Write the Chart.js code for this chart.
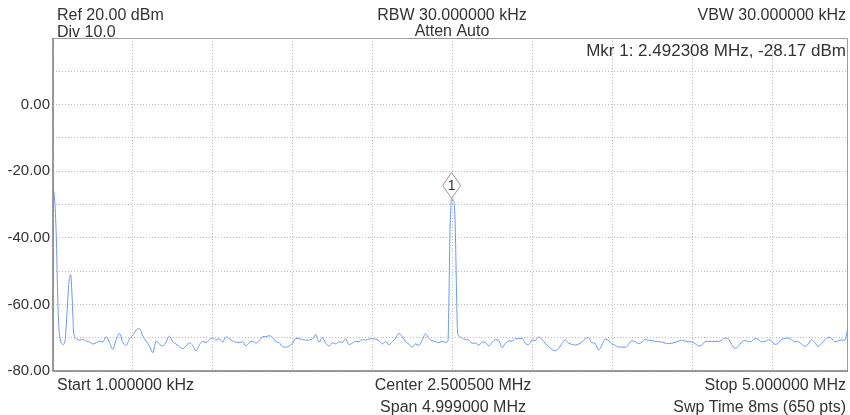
<!DOCTYPE html>
<html>
<head>
<meta charset="utf-8">
<title>Spectrum</title>
<script src="https://cdn.jsdelivr.net/npm/chart.js@4.4.0/dist/chart.umd.min.js"></script>
<style>
  html, body { margin: 0; padding: 0; background: #fff; overflow: hidden; }
  canvas { display: block; }
</style>
</head>
<body>
<canvas id="chart1" width="850" height="415"></canvas>
<script>
// barrido: 240 muestras equiespaciadas de la parte visible de la traza (MHz)
const sweepStartMHz = 0.001;
const visibleStopMHz = 4.969;
const traceDbm = [
  -25.5, -40, -69.5, -72, -66, -52, -64, -70.3, -70.7, -70.5,
  -71.0, -71.3, -71.9, -71.5, -71.0, -71.3, -69.7, -71.5, -73.5, -70.5,
  -68.7, -71.5, -72.3, -70.3, -69.3, -67.7, -67.3, -69.5, -71.0, -72.5,
  -74.5, -71.0, -71.9, -72.5, -71.3, -69.5, -71.3, -71.9, -72.7, -73.3,
  -72.5, -71.5, -72.3, -74.0, -72.1, -71.1, -71.5, -70.6, -70.0, -70.7,
  -70.3, -71.3, -69.7, -70.3, -71.0, -71.3, -71.5, -71.2, -72.5, -71.5,
  -71.1, -71.6, -70.9, -69.7, -69.7, -69.4, -69.9, -71.2, -71.5, -72.7,
  -72.8, -72.5, -71.7, -70.2, -70.3, -70.6, -70.7, -70.7, -70.3, -69.1,
  -71.3, -70.0, -71.7, -72.5, -71.5, -71.9, -71.2, -71.4, -70.3, -72.1,
  -71.6, -71.1, -71.2, -70.6, -70.7, -70.4, -70.3, -70.5, -70.9, -71.9,
  -71.1, -72.1, -71.2, -70.2, -68.7, -69.7, -71.2, -71.9, -72.8, -71.9,
  -72.3, -70.7, -68.8, -70.2, -70.9, -71.2, -71.5, -71.1, -71.4, -60,
  -28.3, -40, -69.5, -70.1, -70.6, -70.7, -71.7, -71.6, -72.3, -71.3,
  -71.4, -72.5, -71.4, -70.6, -70.8, -73.0, -71.7, -71.0, -71.0, -70.3,
  -70.3, -70.2, -71.7, -72.1, -70.7, -70.8, -69.8, -70.5, -71.7, -72.7,
  -73.6, -73.9, -73.2, -71.8, -70.7, -71.6, -72.0, -72.2, -71.9, -71.3,
  -70.3, -70.0, -71.5, -71.7, -73.7, -72.2, -70.4, -70.8, -71.8, -72.3,
  -72.8, -72.8, -72.9, -72.0, -70.9, -71.2, -71.8, -71.3, -70.5, -70.8,
  -70.8, -71.1, -71.2, -71.3, -71.6, -71.8, -71.7, -71.4, -71.1, -70.7,
  -71.0, -71.2, -71.3, -71.7, -72.5, -72.3, -71.2, -71.1, -71.1, -71.1,
  -71.1, -70.8, -70.1, -70.3, -72.0, -73.2, -72.7, -71.3, -70.8, -71.2,
  -71.1, -70.3, -70.5, -71.2, -71.2, -70.6, -70.9, -72.0, -71.7, -70.5,
  -70.2, -70.1, -70.6, -71.2, -71.2, -71.9, -72.6, -72.0, -70.6, -71.4,
  -72.6, -71.8, -70.7, -69.9, -70.1, -71.2, -71.0, -70.7, -70.8, -67.0
];

// puntos extra en los flancos de los picos
const peakMHz = [0.0104, 0.0291, 0.0354, 0.0760, 0.0916, 0.1010, 0.1116, 0.1197, 0.1291,
  2.4694, 2.4819, 2.4869, 2.4923, 2.5005, 2.5099, 2.5225, 2.5287];
const peakDbm = [-28, -55, -65, -71, -60, -53, -51, -57, -68,
  -71, -38, -31, -28.17, -28.6, -31, -56, -68];

// rejilla de frecuencia (10 divisiones de 0.4999 MHz)
const gridMHz = [0.001, 0.5009, 1.0008, 1.5007, 2.0006, 2.5005, 3.0004, 3.5003, 4.0002, 4.5001];

const markerMHz = 2.4923;
const markerDbm = -28.17;

const headerLeft = ['Ref 20.00 dBm', 'Div 10.0'];
const headerCenter = ['RBW 30.000000 kHz', 'Atten Auto'];
const headerRight = ['VBW 30.000000 kHz'];
const markerText = 'Mkr 1: 2.492308 MHz, -28.17 dBm';
const footerLeft = ['Start 1.000000 kHz'];
const footerCenter = ['Center 2.500500 MHz', 'Span 4.999000 MHz'];
const footerRight = ['Stop 5.000000 MHz', 'Swp Time 8ms (650 pts)'];

const FONT = "'Liberation Sans', Arial, sans-serif";
const TEXT = '#333333';

let tablaEspectro;

function construirTraza() {
    const step = (visibleStopMHz - sweepStartMHz) / (traceDbm.length - 1);
    const puntos = traceDbm.map((v, i) => ({ x: sweepStartMHz + i * step, y: v }));
    peakMHz.forEach((f, i) => puntos.push({ x: f, y: peakDbm[i] }));
    puntos.sort((a, b) => a.x - b.x);
    return puntos;
}

const textos = {
    id: 'textos',
    afterDraw(chart) {
        const ctx = chart.ctx;
        const a = chart.chartArea;
        const xs = chart.scales.x, ys = chart.scales.y;

        // marco
        ctx.save();
        ctx.setLineDash([]);
        ctx.strokeStyle = '#9c9c9c';
        ctx.lineWidth = 1;
        ctx.beginPath();
        ctx.moveTo(a.left, a.top + 0.5);
        ctx.lineTo(a.right - 0.5, a.top + 0.5);
        ctx.lineTo(a.right - 0.5, a.bottom);
        ctx.stroke();
        ctx.strokeStyle = '#7a7a7a';
        ctx.lineWidth = 1.5;
        ctx.beginPath();
        ctx.moveTo(a.left, a.top);
        ctx.lineTo(a.left, a.bottom);
        ctx.lineTo(a.right, a.bottom);
        ctx.stroke();

        // marcador
        const px = xs.getPixelForValue(markerMHz);
        const py = ys.getPixelForValue(markerDbm);
        ctx.beginPath();
        ctx.moveTo(px, py);
        ctx.lineTo(px + 9, py - 13);
        ctx.lineTo(px, py - 26);
        ctx.lineTo(px - 9, py - 13);
        ctx.closePath();
        ctx.fillStyle = '#ffffff';
        ctx.fill();
        ctx.strokeStyle = '#a38f8f';
        ctx.lineWidth = 1;
        ctx.stroke();
        ctx.fillStyle = TEXT;
        ctx.font = '14px ' + FONT;
        ctx.textAlign = 'center';
        ctx.textBaseline = 'middle';
        ctx.fillText('1', px, py - 12.5);

        // cabecera y pie
        ctx.font = '16px ' + FONT;
        ctx.textBaseline = 'alphabetic';
        ctx.textAlign = 'left';
        ctx.fillText(headerLeft[0], 57, 20);
        ctx.fillText(headerLeft[1], 57, 37);
        ctx.fillText(footerLeft[0], 57, 390);
        ctx.textAlign = 'center';
        ctx.fillText(headerCenter[0], 452, 20);
        ctx.fillText(headerCenter[1], 452, 36);
        ctx.fillText(footerCenter[0], 453, 390);
        ctx.fillText(footerCenter[1], 453, 412);
        ctx.textAlign = 'right';
        ctx.fillText(headerRight[0], 846, 20);
        ctx.fillText(footerRight[0], 846, 390);
        ctx.fillText(footerRight[1], 846, 412);
        ctx.font = '17px ' + FONT;
        ctx.fillText(markerText, 846, 56);
        ctx.restore();
    }
};

function crearTablaEspectro() {
    const ctx = document.getElementById('chart1');

    const config = {
        type: 'line',
        data: {
            datasets: [{
                label: 'Trace 1',
                data: construirTraza(),
                borderColor: 'rgb(104, 152, 240)',
                borderWidth: 1,
                pointRadius: 0,
                cubicInterpolationMode: 'monotone',
                fill: false
            }]
        },
        options: {
            responsive: false,
            animation: false,
            events: [],
            layout: { padding: { left: 0, right: 2, top: 38, bottom: 44 } },
            plugins: {
                legend: { display: false },
                title: { display: false },
                tooltip: { enabled: false }
            },
            scales: {
                x: {
                    type: 'linear',
                    min: sweepStartMHz,
                    max: visibleStopMHz,
                    afterBuildTicks: (scale) => {
                        scale.ticks = gridMHz.map(v => ({ value: v }));
                    },
                    afterFit: (scale) => { scale.height = 0; },
                    ticks: { display: false },
                    grid: { color: '#bdbdbd', lineWidth: 1, drawTicks: false },
                    border: { display: false, dash: [1, 2] }
                },
                y: {
                    min: -80,
                    max: 20,
                    afterFit: (scale) => { scale.width = 53; },
                    ticks: {
                        stepSize: 10,
                        padding: 3,
                        color: TEXT,
                        font: { family: FONT, size: 15 },
                        callback: (v) => (v % 20 === 0 && v < 20) ? v.toFixed(2) : ''
                    },
                    grid: { color: '#bdbdbd', lineWidth: 1, drawTicks: false },
                    border: { display: false, dash: [1, 2] }
                }
            }
        },
        plugins: [textos]
    };
    if (tablaEspectro instanceof Chart) {
        tablaEspectro.destroy();
    }
    tablaEspectro = new Chart(ctx, config);
}

crearTablaEspectro();
</script>
</body>
</html>
